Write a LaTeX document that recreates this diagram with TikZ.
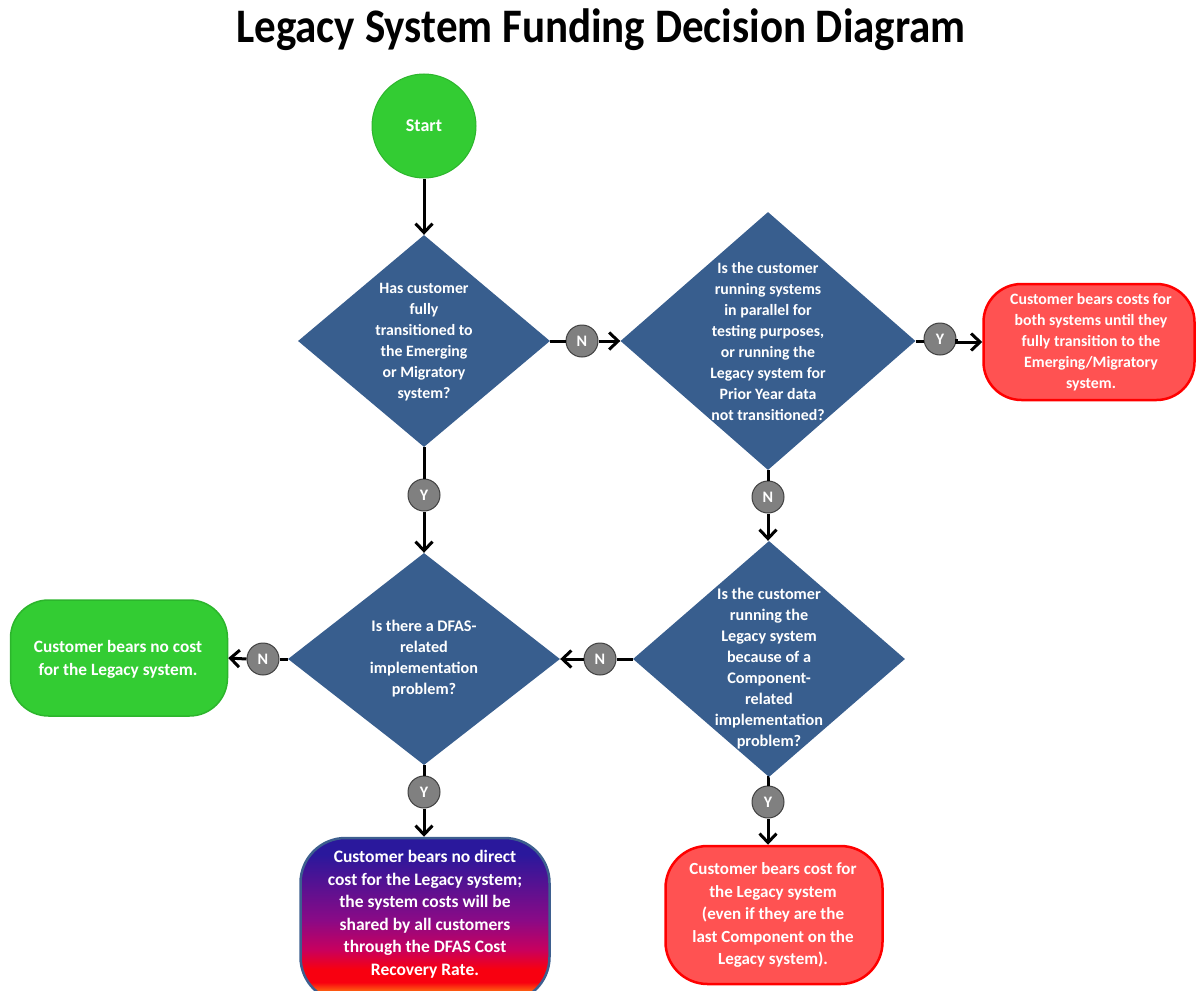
\documentclass[tikz,border=0pt]{standalone}
\usepackage{fontspec}
\setmainfont{Carlito}
\usetikzlibrary{shapes.geometric,arrows.meta}
\definecolor{diablue}{HTML}{385E8E}
\definecolor{startgreen}{HTML}{33CC33}
\definecolor{greenedge}{HTML}{2CB52C}
\definecolor{redfill}{HTML}{FF5252}
\definecolor{rededge}{HTML}{FF0000}
\definecolor{circgray}{HTML}{808080}
\definecolor{circedge}{HTML}{404040}
\definecolor{gradblue}{HTML}{2A189C}
\definecolor{gradpurple}{HTML}{8A0A86}
\definecolor{gradmag}{HTML}{C8005E}
\definecolor{gradred}{HTML}{F80010}
\definecolor{gradorange}{HTML}{FF7010}
\definecolor{gradedge}{HTML}{3D5F8F}
\pgfdeclareverticalshading{costgrad}{100bp}{color(0bp)=(gradorange); color(28bp)=(gradorange); color(31bp)=(gradred); color(35bp)=(gradred); color(41bp)=(gradmag); color(50bp)=(gradpurple); color(70bp)=(gradblue); color(100bp)=(gradblue)}
\tikzset{
  dia/.style={diamond, fill=diablue, draw=none, inner sep=0pt},
  dtext/.style={text=white, font=\bfseries\fontsize{15.8}{21}\selectfont, align=center},
  btext/.style={text=white, font=\bfseries\fontsize{17}{22.5}\selectfont, align=center},
  yn/.style={circle, fill=circgray, draw=circedge, line width=1pt, minimum size=32pt, inner sep=0pt, text=white, font=\bfseries\fontsize{16}{16}\selectfont},
  redbox/.style={rectangle, rounded corners=38pt, fill=redfill, draw=rededge, line width=2.5pt},
  conn/.style={draw=black, line width=3pt},
  arr/.style={conn, -{Straight Barb[length=9pt,width=17pt,line width=3pt]}},
}
\begin{document}
\begin{tikzpicture}[x=1pt,y=-1pt]
\useasboundingbox (0,0) rectangle (1196,990);
% title
\node[font=\bfseries\fontsize{43}{43}\selectfont] (title) at (601,30) {\scalebox{1}[1.12]{Legacy System Funding Decision Diagram}};
% start
\node[circle, fill=startgreen, draw=greenedge, line width=1pt, minimum size=104pt, inner sep=0pt, text=white, font=\bfseries\fontsize{18}{18}\selectfont] (start) at (424,126) {Start};
% diamonds
\node[dia, minimum width=252pt, minimum height=212pt] (d1) at (424,341) {};
\node[dtext] (t1) at (424,342) {Has customer\\fully\\transitioned to\\the Emerging\\or Migratory\\system?};
\node[dia, minimum width=295pt, minimum height=258pt] (d2) at (768,341) {};
\node[dtext] (t2) at (768,342) {Is the customer\\running systems\\in parallel for\\testing purposes,\\or running the\\Legacy system for\\Prior Year data\\not transitioned?};
\node[dia, minimum width=272pt, minimum height=212pt] (d3) at (424,659) {};
\node[dtext, font=\bfseries\fontsize{16.2}{21}\selectfont] (t3) at (424,659) {Is there a DFAS-\\related\\implementation\\problem?};
\node[dia, minimum width=272pt, minimum height=236pt] (d4) at (769,659) {};
\node[dtext, font=\bfseries\fontsize{16.2}{21}\selectfont] (t4) at (769,669) {Is the customer\\running the\\Legacy system\\because of a\\Component-\\related\\implementation\\problem?};
% outcome boxes
\node[redbox, minimum width=211pt, minimum height=116pt] (r1) at (1089,342) {};
\node[btext, font=\bfseries\fontsize{15.8}{21}\selectfont] (rt1) at (1091,342) {Customer bears costs for\\both systems until they\\fully transition to the\\Emerging/Migratory\\system.};
\node[rectangle, rounded corners=38pt, fill=startgreen, draw=greenedge, line width=1.5pt, minimum width=217pt, minimum height=116pt] (g1) at (119,658) {};
\node[btext, font=\bfseries\fontsize{17.3}{23}\selectfont] (gt1) at (118,659) {Customer bears no cost\\for the Legacy system.};
\node[rectangle, rounded corners=45pt, shading=costgrad, draw=gradedge, line width=2.5pt, minimum width=249pt, minimum height=164pt] (p1) at (425,920) {};
\node[btext, font=\bfseries\fontsize{17.5}{22.5}\selectfont] (pt1) at (425,914) {Customer bears no direct\\cost for the Legacy system;\\the system costs will be\\shared by all customers\\through the DFAS Cost\\Recovery Rate.};
\node[redbox, minimum width=217pt, minimum height=138pt, rounded corners=42pt] (r2) at (774,915) {};
\node[btext] (rt2) at (773,915) {Customer bears cost for\\the Legacy system\\(even if they are the\\last Component on the\\Legacy system).};
% Y/N circles
\node[yn] (c1) at (582,341) {N};
\node[yn] (c2) at (940,339) {Y};
\node[yn] (c3) at (424,495) {Y};
\node[yn] (c4) at (768,497) {N};
\node[yn] (c5) at (263,659) {N};
\node[yn] (c6) at (600,659) {N};
\node[yn] (c7) at (424,792) {Y};
\node[yn] (c8) at (768,802) {Y};
% connectors
\draw[arr] (start.south) -- (d1.north);
\draw[conn] (d1.east) -- (c1.west);
\draw[arr] (c1.east) -- (d2.west);
\draw[conn] (d2.east) -- (d2.east -| c2.west);
\draw[arr] (c2.east) -- (c2.east |- r1.west) -- (r1.west);
\draw[conn] (d1.south) -- (c3.north);
\draw[arr] (c3.south) -- (d3.north);
\draw[conn] (d2.south) -- (d2.south |- c4.north);
\draw[arr] (c4.south) -- (c4.south |- d4.north);
\draw[conn] (d4.west) -- (c6.east);
\draw[arr] (c6.west) -- (d3.east);
\draw[conn] (d3.west) -- (c5.east);
\draw[arr] (c5.west) -- (g1.east);
\draw[conn] (d3.south) -- (c7.north);
\draw[arr] (c7.south) -- (c7.south |- p1.north);
\draw[conn] (d4.south) -- (d4.south -| c8.north) -- (c8.north);
\draw[arr] (c8.south) -- (c8.south |- r2.north);
\end{tikzpicture}
\end{document}
